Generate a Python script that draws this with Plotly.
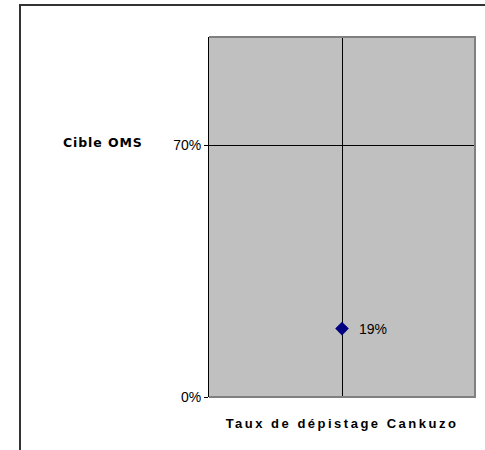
import plotly.graph_objects as go

# Data
category = ["Taux de dépistage Cankuzo"]
taux = [0.19]
cible_label = "Cible OMS"
cible_value = 0.70
ytick_vals = [0.0, 0.70]
ytick_text = ["0%", "70%"]

W, H = 485, 450
ML, MR, MT, MB = 209, 10, 37, 53
pw = W - ML - MR
ph = H - MT - MB

fig = go.Figure()
fig.add_trace(go.Scatter(
    x=[0], y=taux, mode="markers",
    marker=dict(symbol="diamond", size=10.5, color="#000080",
                line=dict(width=0)),
    showlegend=False, hoverinfo="skip",
))

font = "Liberation Sans, Arial, sans-serif"

fig.update_layout(
    width=W, height=H,
    margin=dict(l=ML, r=MR, t=MT, b=MB),
    paper_bgcolor="white",
    plot_bgcolor="#C0C0C0",
    showlegend=False,
    xaxis=dict(
        range=[-1, 1], tickvals=[0], showticklabels=False, ticks="",
        showgrid=True, gridcolor="black", gridwidth=1, zeroline=False,
        showline=False, fixedrange=True,
        title=dict(
            text='<span style="letter-spacing:2.5px">' + category[0] + "</span>",
            font=dict(family=font, size=13, color="black", weight="bold"),
            standoff=21,
        ),
    ),
    yaxis=dict(
        range=[0, 1], tickvals=ytick_vals, ticktext=ytick_text,
        ticks="outside", ticklen=4, tickcolor="black", tickwidth=1,
        tickfont=dict(family=font, size=14, color="black"),
        showgrid=True, gridcolor="black", gridwidth=1, zeroline=False,
        showline=True, linecolor="black", linewidth=1, fixedrange=True,
    ),
)

# data label
fig.add_annotation(
    x=0, y=taux[0], xref="x", yref="y", text=f"{taux[0]:.0%}",
    showarrow=False, xanchor="left", yanchor="middle", xshift=15,
    font=dict(family=font, size=14, color="black"),
)

# target label
fig.add_annotation(
    x=(103 - ML) / pw, y=cible_value, xref="paper", yref="y",
    text='<span style="letter-spacing:0.9px">' + cible_label + "</span>",
    showarrow=False, xanchor="center", yanchor="middle", yshift=3,
    font=dict(family="DejaVu Sans", size=12.5, color="black", weight="bold"),
)

# plot area border (top, right, bottom) in gray
fig.add_shape(type="path", xref="paper", yref="paper",
              path="M 0 1 L 1 1 L 1 0 L 0 0",
              line=dict(color="#808080", width=2), layer="above")

# outer chart-area frame (extends beyond the visible crop)
x0 = (20 - ML) / pw
y1 = (H - MB - 5) / ph
fig.add_shape(type="path", xref="paper", yref="paper",
              path=f"M {x0} -0.6 L {x0} {y1} L 2 {y1}",
              line=dict(color="#333333", width=2), layer="above")

fig.write_html(
    "out.html",
    config={"displayModeBar": False},
    post_script="document.body.style.margin='0';",
)
